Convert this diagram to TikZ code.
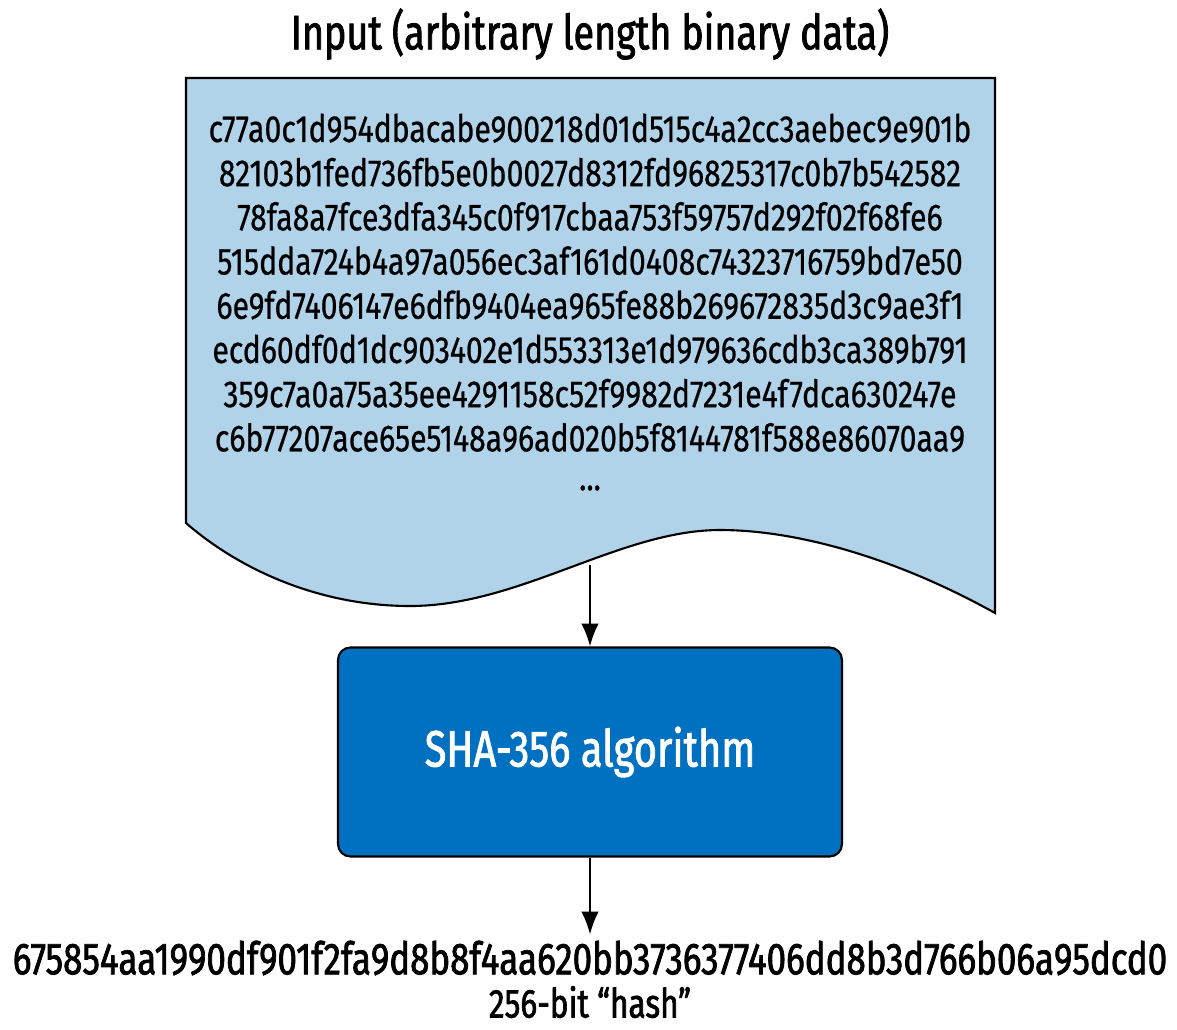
\documentclass[tikz,border=0pt]{standalone}
\usepackage{fontspec}
\setmainfont{Fira Sans}[FakeStretch=0.80,FakeBold=0.6]
\newfontfamily\heavyfont{Fira Sans}[FakeStretch=0.78,FakeBold=1.6]
\usetikzlibrary{arrows.meta}
\definecolor{paperblue}{RGB}{176,211,234}
\definecolor{algoblue}{RGB}{0,112,192}
\tikzset{
  hexline/.style={font=\fontsize{21.5}{26}\selectfont},
  heavytext/.style={font=\heavyfont\fontsize{#1}{30}\selectfont},
  algobox/.style={draw,line width=1.2pt,fill=algoblue,rounded corners=7pt,
    minimum width=10.08cm,minimum height=4.18cm,text=white,
    font=\heavyfont\fontsize{29}{36}\selectfont}
}
\begin{document}
\begin{tikzpicture}[x=0.02cm,y=-0.02cm]
    \useasboundingbox (0,0) rectangle (1177,1029);
    \coordinate (W) at (590,565);
    % input sheet
    \draw[fill=paperblue,line width=1.2pt] (186,78) -- (995,78) -- (995,613)
      .. controls (900,560) and (800,530) .. (720,530)
      .. controls (620,530) and (520,606) .. (410,606)
      .. controls (320,606) and (240,570) .. (186,523) -- cycle;
    \node[heavytext=27.5] (title) at (590,34)
      {Input (arbitrary length binary data)};
    \foreach \hex [count=\i] in {
      c77a0c1d954dbacabe900218d01d515c4a2cc3aebec9e901b,
      82103b1fed736fb5e0b0027d8312fd96825317c0b7b542582,
      78fa8a7fce3dfa345c0f917cbaa753f59757d292f02f68fe6,
      515dda724b4a97a056ec3af161d0408c74323716759bd7e50,
      6e9fd7406147e6dfb9404ea965fe88b269672835d3c9ae3f1,
      ecd60df0d1dc903402e1d553313e1d979636cdb3ca389b791,
      359c7a0a75a35ee4291158c52f9982d7231e4f7dca630247e,
      c6b77207ace65e5148a96ad020b5f8144781f588e86070aa9}
      \node[hexline] (line\i) at (590,84+44.2*\i) {\hex};
    \node[hexline] (dots) at (590,488) {...};
    \node[algobox] (algo) at (590,752) {SHA-356 algorithm};
    \node[heavytext=25.5] (hash) at (590,958)
      {675854aa1990df901f2fa9d8b8f4aa620bb3736377406dd8b3d766b06a95dcd0};
    \node[heavytext=23,inner sep=0pt] (label) at (590,1002)
      {256-bit “hash”};
    \begin{scope}[-{Latex[length=13pt,width=10pt]},line width=1.3pt]
      \draw (W) -- (algo.north);
      \draw (algo.south) -- (hash.north);
    \end{scope}
  \end{tikzpicture}
\end{document}
